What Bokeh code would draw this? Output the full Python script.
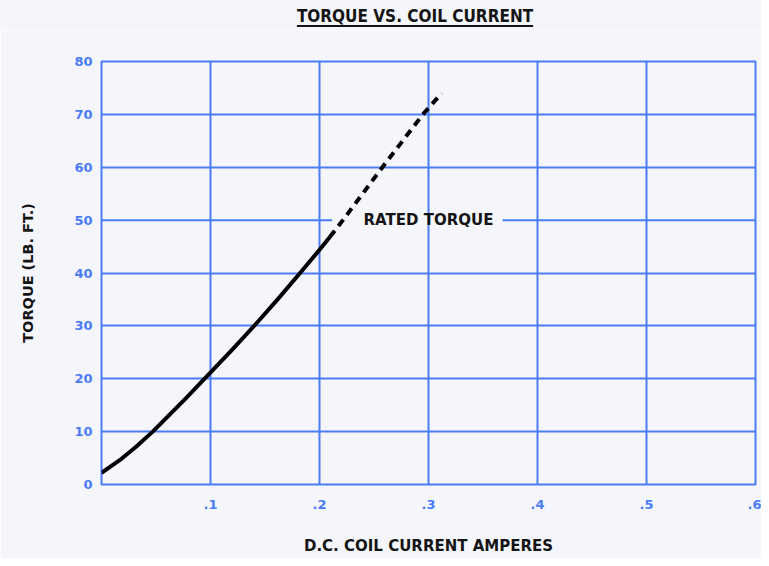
from bokeh.plotting import figure
from bokeh.models import FixedTicker, Label, Range1d, Div
from bokeh.layouts import column
from bokeh.embed import file_html
from bokeh.resources import INLINE

# ---- data ----
title_text = "TORQUE VS. COIL CURRENT"
solid_x = [0.0, 0.0167, 0.032, 0.047, 0.0625, 0.0778, 0.0955, 0.1204, 0.1418, 0.1616, 0.1814, 0.1997, 0.2095]
solid_y = [2.2, 4.6, 7.2, 10.0, 13.2, 16.4, 20.2, 25.6, 30.4, 35.0, 39.8, 44.3, 46.8]
dash_x = [0.2095, 0.2215, 0.2577, 0.2949, 0.312]
dash_y = [46.8, 50.0, 60.0, 70.0, 74.0]
x_ticks = [0.1, 0.2, 0.3, 0.4, 0.5, 0.6]
x_tick_labels = [".1", ".2", ".3", ".4", ".5", ".6"]
y_ticks = [0, 10, 20, 30, 40, 50, 60, 70, 80]
rated_torque = 50
rated_label = "RATED TORQUE"
rated_label_x = 0.3

BG = "#f4f6fc"
BLUE = "#4a7cf6"
INK = "#141414"
FONT = "DejaVu Sans"

title = Div(
    text=('<span style="display:inline-block;position:relative;left:415px;top:4px;'
          'transform:translateX(-50%);white-space:nowrap;line-height:1.1;'
          'text-decoration:underline;text-decoration-thickness:2px;'
          'text-underline-offset:3px;">' + title_text + '</span>'),
    width=761, height=30, margin=0,
    styles={"font-family": "'DejaVu Sans Condensed', 'DejaVu Sans', sans-serif",
            "font-stretch": "condensed", "font-weight": "bold", "font-size": "17px",
            "color": INK, "background-color": BG})

p = figure(width=761, height=528, output_backend="svg", toolbar_location=None,
           x_range=Range1d(0, 0.6), y_range=Range1d(0, 80),
           min_border_left=101, min_border_right=6, min_border_top=31, min_border_bottom=74,
           margin=0)
p.background_fill_color = BG
p.border_fill_color = BG
p.outline_line_color = BLUE
p.outline_line_width = 2

# axes
p.xaxis.ticker = FixedTicker(ticks=x_ticks)
p.xaxis.major_label_overrides = {t: l for t, l in zip(x_ticks, x_tick_labels)}
p.yaxis.ticker = FixedTicker(ticks=y_ticks)
for ax in (p.xaxis[0], p.yaxis[0]):
    ax.axis_line_color = None
    ax.major_tick_line_color = None
    ax.minor_tick_line_color = None
    ax.major_label_text_color = BLUE
    ax.major_label_text_font = FONT
    ax.major_label_text_font_style = "bold"
    ax.major_label_text_font_size = "13px"
    ax.axis_label_text_color = INK
    ax.axis_label_text_font = FONT
    ax.axis_label_text_font_style = "bold"
p.xaxis.axis_label = "D.C. COIL CURRENT AMPERES"
p.yaxis.axis_label = "TORQUE (LB. FT.)"
p.xaxis.axis_label_text_font_size = "15px"
p.yaxis.axis_label_text_font_size = "14.5px"
p.xaxis.major_label_standoff = 9
p.xaxis.axis_label_standoff = 25
p.yaxis.major_label_standoff = 3
p.yaxis.axis_label_standoff = 35

# grid
p.xgrid.ticker = FixedTicker(ticks=x_ticks)
p.ygrid.ticker = FixedTicker(ticks=[t for t in y_ticks if t != rated_torque])
for g in (p.xgrid[0], p.ygrid[0]):
    g.grid_line_color = BLUE
    g.grid_line_width = 2
    g.grid_line_alpha = 1

# rated torque gridline, broken around its label
p.segment(x0=[0.0, 0.368], x1=[0.2116, 0.6], y0=[rated_torque] * 2, y1=[rated_torque] * 2,
          line_color=BLUE, line_width=2)

# curve
p.line(solid_x, solid_y, line_color="black", line_width=4, line_join="round")
p.line(dash_x, dash_y, line_color="black", line_width=4, line_dash="8 6")

p.add_layout(Label(x=rated_label_x, y=rated_torque, text=rated_label, text_align="center",
                   text_baseline="middle", text_font=FONT, text_font_style="bold",
                   text_font_size="15px", text_color=INK))

layout = column(title, p, spacing=0)
open("out.html", "w").write(file_html(layout, INLINE))
